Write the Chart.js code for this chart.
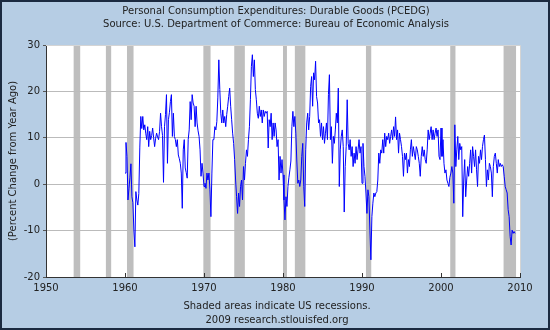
<!DOCTYPE html>
<html>
<head>
<meta charset="utf-8">
<script src="https://cdn.jsdelivr.net/npm/chart.js@4.4.1/dist/chart.umd.min.js"></script>
<style>
  html, body { margin: 0; padding: 0; background: #b6cde4; }
  #wrap { width: 550px; height: 330px; }
</style>
</head>
<body>
<div id="wrap"><canvas id="pcedg" width="550" height="330"></canvas></div>
<script>
const titleLines = [
  "Personal Consumption Expenditures: Durable Goods (PCEDG)",
  "Source: U.S. Department of Commerce: Bureau of Economic Analysis"
];
const footerLines = [
  "Shaded areas indicate US recessions.",
  "2009 research.stlouisfed.org"
];
const yAxisTitle = "(Percent Change from Year Ago)";
const xTicks = [1950, 1960, 1970, 1980, 1990, 2000, 2010];
const yTicks = [-20, -10, 0, 10, 20, 30];

// NBER recessions, peak to trough (decimal years)
const recessionStart = [1953.5, 1957.58, 1960.25, 1969.92, 1973.83, 1980.0, 1981.5, 1990.5, 2001.17, 2007.92];
const recessionEnd = [1954.33, 1958.25, 1961.08, 1970.83, 1975.17, 1980.5, 1982.83, 1991.17, 2001.83, 2009.5];

// % change from year ago, 8 readings per year
const perYear = 8;
const decadeStart = [1960, 1970, 1980, 1990, 2000];
const pce1960s = [
  2.4, 9.0, 6.0, -3.4, -1.0, 1.5, 4.4, -2.7, -4.0, -9.9,
  -13.5, -1.6, -3.4, -4.5, -2.0, 8.0, 14.6, 12.0, 14.6, 11.7,
  12.8, 11.0, 9.6, 12.4, 8.1, 11.4, 9.6, 10.5, 12.1, 10.0,
  8.1, 9.9, 11.0, 10.2, 9.6, 11.4, 15.3, 12.4, 10.5, 0.4,
  12.4, 15.0, 19.3, 4.5, 13.9, 15.5, 17.8, 19.3, 10.3, 15.3,
  10.3, 9.6, 8.1, 9.6, 6.3, 5.5, 4.5, 2.4, -5.2, 7.4,
  9.6, 3.5, 2.5, 1.3, 9.6, 11.7, 17.8, 13.9, 19.3, 17.5,
  16.8, 12.4, 16.8, 13.2, 11.5, 10.3, 7.4, 1.7, 4.5, 2.4
];
const pce1970s = [
  -0.5, 0.2, -0.9, 2.4, 0.9, 2.4, -1.2, -7.0, 2.4, 9.6,
  9.6, 12.4, 11.7, 13.5, 18.6, 26.8, 20.4, 15.3, 13.2, 16.0,
  13.2, 14.6, 12.4, 15.0, 16.8, 18.9, 20.7, 16.8, 13.9, 11.0,
  8.8, 5.3, 0.9, -2.7, -6.3, -1.9, -4.8, -0.5, 0.9, -3.4,
  3.8, 0.9, 4.5, 7.4, 6.0, 9.6, 12.4, 18.2, 25.4, 27.9,
  23.2, 26.8, 20.4, 18.2, 15.3, 14.2, 16.8, 14.6, 16.0, 13.2,
  16.0, 14.6, 15.7, 15.3, 15.7, 7.8, 13.9, 12.4, 15.3, 9.6,
  13.2, 10.3, 13.2, 11.7, 8.1, 9.6, 0.9, 6.0, 2.4, 5.3
];
const pce1980s = [
  2.0, -3.4, -7.7, -2.7, -4.8, -0.5, 1.5, 3.1, 5.0, 12.4,
  15.7, 12.4, 14.6, 11.0, 5.0, 0.2, 0.9, -0.5, 0.9, 6.0,
  8.8, -0.5, -4.8, 7.4, 13.2, 15.3, 11.7, 14.6, 21.1, 23.2,
  16.8, 24.0, 22.5, 26.5, 18.9, 17.5, 13.2, 13.9, 10.3, 13.2,
  9.6, 12.4, 8.8, 11.0, 13.2, 9.6, 19.3, 23.6, 9.6, 12.4,
  4.5, 10.3, 8.8, 11.7, 15.3, 13.2, 20.7, -0.5, 7.4, 10.3,
  11.7, 8.1, -6.0, 3.8, 8.1, 18.2, 8.8, 7.4, 9.6, 6.0,
  8.1, 3.8, 6.7, 4.5, 8.1, 5.3, 7.4, 9.6, 6.7, 8.1
];
const pce1990s = [
  0.2, 8.8, 3.8, 1.7, -1.9, -6.3, -1.2, -2.7, -9.9, -16.3,
  -7.0, -4.1, -1.9, -2.7, -1.9, -1.6, 0.9, 6.7, 4.5, 7.4,
  6.7, 9.6, 6.7, 11.0, 8.1, 10.3, 9.6, 11.0, 8.8, 10.3,
  11.7, 9.6, 12.4, 10.3, 14.5, 9.6, 11.7, 6.7, 11.0, 9.6,
  8.1, 6.0, 1.7, 6.7, 5.3, 6.7, 2.4, 5.3, 3.8, 7.4,
  9.6, 6.0, 8.1, 6.7, 5.3, 8.1, 7.4, 6.0, 4.5, 1.7,
  6.0, 8.1, 6.0, 7.4, 5.3, 4.5, 7.4, 11.7, 9.6, 11.0,
  12.4, 9.6, 11.7, 9.6, 11.0, 12.1, 10.3, 11.7, 6.0, 5.3
];
const pce2000s = [
  12.1, 6.0, 9.6, 4.5, 2.4, 3.1, 0.9, 0.2, -0.5, 1.5,
  2.4, 3.8, 2.4, -4.1, 12.8, 3.8, 7.4, 10.3, 5.3, 8.8,
  7.4, 8.1, -7.0, 0.9, 5.3, -2.7, 0.9, 3.8, 1.7, 4.5,
  7.4, 2.4, 8.1, 6.0, 3.8, 7.4, 3.1, -0.5, 6.0, 4.5,
  7.4, 5.3, 8.1, 9.6, 10.6, 5.3, -0.5, 3.1, 0.9, 4.5,
  3.8, 2.4, -2.7, 3.8, 6.0, 6.7, 4.5, 2.4, 5.3, 3.8,
  4.5, 3.8, 4.2, 3.8, 1.7, -0.5, -1.2, -1.9, -5.5, -7.0,
  -11.3, -13.1, -9.9, -10.6, -10.2, -10.6
];

const decades = [pce1960s, pce1970s, pce1980s, pce1990s, pce2000s];
const points = [];
decades.forEach((vals, d) => {
  vals.forEach((v, i) => points.push({ x: decadeStart[d] + i / perYear, y: v }));
});

const FONT = "'DejaVu Sans', Verdana, sans-serif";
const TEXT = "#222222";

const fredFrame = {
  id: "fredFrame",
  beforeDraw(chart) {
    const { ctx, chartArea: a, scales: { x } } = chart;
    ctx.save();
    ctx.fillStyle = "#b6cde4";
    ctx.fillRect(0, 0, chart.width, chart.height);
    ctx.fillStyle = "#ffffff";
    ctx.fillRect(a.left, a.top, a.right - a.left, a.bottom - a.top);
    ctx.fillStyle = "#bebebe";
    recessionStart.forEach((s, k) => {
      const x0 = x.getPixelForValue(s);
      const x1 = x.getPixelForValue(recessionEnd[k]);
      ctx.fillRect(x0, a.top, x1 - x0, a.bottom - a.top);
    });
    ctx.restore();
  },
  afterDraw(chart) {
    const { ctx, chartArea: a, scales: { x } } = chart;
    ctx.save();
    // light top/right edge of plot
    ctx.strokeStyle = "#d4d4d4";
    ctx.lineWidth = 1;
    ctx.beginPath();
    ctx.moveTo(a.left, a.top + 0.5);
    ctx.lineTo(a.right + 0.5, a.top + 0.5);
    ctx.lineTo(a.right + 0.5, a.bottom);
    ctx.stroke();
    // inward tick marks on the time axis
    ctx.strokeStyle = "#333333";
    ctx.beginPath();
    x.ticks.forEach(t => {
      const px = Math.round(x.getPixelForValue(t.value)) + 0.5;
      ctx.moveTo(px, a.bottom);
      ctx.lineTo(px, a.bottom - 4);
    });
    ctx.stroke();
    // texts
    ctx.fillStyle = TEXT;
    ctx.font = "10px " + FONT;
    ctx.textAlign = "center";
    ctx.textBaseline = "middle";
    ctx.fillText(titleLines[0], 276, 11);
    ctx.fillText(titleLines[1], 276, 24);
    ctx.fillText(footerLines[0], 277, 306);
    ctx.fillText(footerLines[1], 277, 320);
    // outer border
    ctx.strokeStyle = "#1b2a40";
    ctx.lineWidth = 2;
    ctx.strokeRect(1, 1, chart.width - 2, chart.height - 2);
    ctx.restore();
  }
};

new Chart(document.getElementById("pcedg"), {
  type: "line",
  data: {
    datasets: [{
      label: "PCEDG",
      data: points,
      borderColor: "#0000ff",
      borderWidth: 1,
      pointRadius: 0,
      tension: 0,
      fill: false
    }]
  },
  options: {
    responsive: false,
    animation: false,
    events: [],
    layout: { padding: { top: 45, right: 30, bottom: 0, left: 0 } },
    plugins: { legend: { display: false }, tooltip: { enabled: false } },
    scales: {
      x: {
        type: "linear",
        min: 1950,
        max: 2010,
        afterBuildTicks: s => { s.ticks = xTicks.map(v => ({ value: v })); },
        afterFit: s => { s.height = 53; s.paddingLeft = 0; s.paddingRight = 0; },
        ticks: {
          callback: v => String(v),
          color: TEXT,
          font: { family: FONT, size: 10 },
          padding: 5,
          maxRotation: 0,
          autoSkip: false
        },
        grid: { display: false, drawTicks: false },
        border: { display: true, color: "#333333", width: 1 }
      },
      y: {
        min: -20,
        max: 30,
        afterBuildTicks: s => { s.ticks = yTicks.map(v => ({ value: v })); },
        afterFit: s => { s.width = 46; s.paddingTop = 0; s.paddingBottom = 0; },
        ticks: {
          color: TEXT,
          font: { family: FONT, size: 10 },
          padding: 3
        },
        grid: { color: "#bbbbbb", tickLength: 3, tickColor: "#555555" },
        border: { display: true, color: "#333333", width: 1 },
        title: {
          display: true,
          text: yAxisTitle,
          color: TEXT,
          font: { family: FONT, size: 10 },
          padding: { top: 7, bottom: 0 }
        }
      }
    }
  },
  plugins: [fredFrame]
});
</script>
</body>
</html>
